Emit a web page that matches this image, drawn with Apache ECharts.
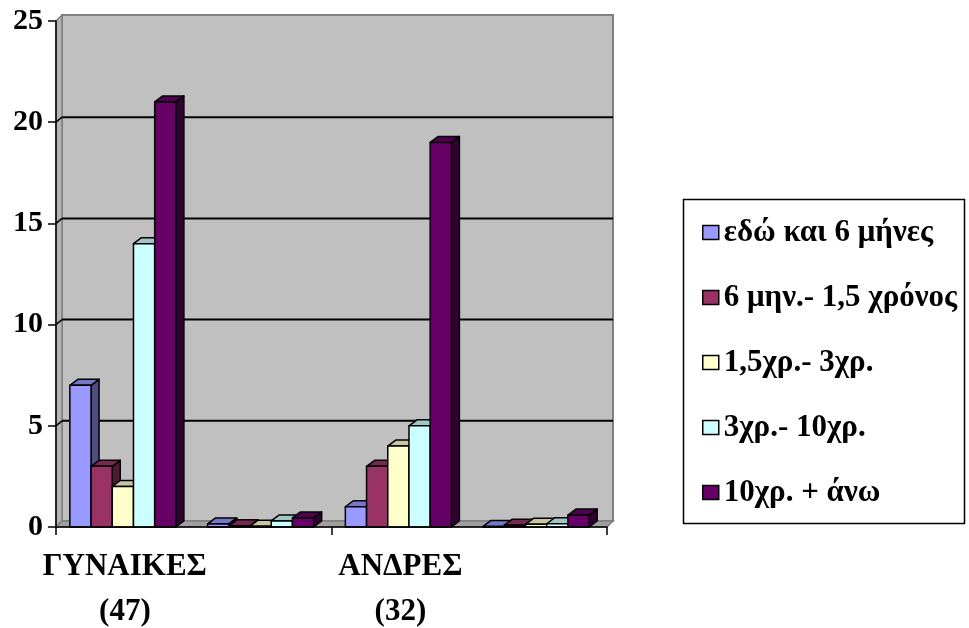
<!DOCTYPE html>
<html>
<head>
<meta charset="utf-8">
<script src="https://cdn.jsdelivr.net/npm/echarts@6/dist/echarts.min.js"></script>
<style>html,body{margin:0;padding:0;background:#fff;}#c{width:969px;height:628px;}</style>
</head>
<body>
<div id="c"></div>
<script>
const categories = ['ΓΥΝΑΙΚΕΣ\n(47)', '', 'ΑΝΔΡΕΣ\n(32)', ''];
const seriesNames = ['εδώ και 6 μήνες', '6 μην.- 1,5 χρόνος', '1,5χρ.- 3χρ.', '3χρ.- 10χρ.', '10χρ. + άνω'];
const s1 = [7, 0.15, 1, 0.03];
const s2 = [3, 0.06, 3, 0.09];
const s3 = [2, 0.04, 4, 0.13];
const s4 = [14, 0.3, 5, 0.16];
const s5 = [21, 0.45, 19, 0.59];
const yTicks = [0, 5, 10, 15, 20, 25];

const seriesValues = [s1, s2, s3, s4, s5];
const colors = ['#9999FF', '#993366', '#FFFFCC', '#CCFFFF', '#660066'];
const FONT = '"Liberation Serif", "Times New Roman", serif';
const DX = 8, DY = -6;     // bar depth
const WX = 6, WY = -6;     // wall depth

function shade(hex, f) {
  const n = parseInt(hex.slice(1), 16);
  const r = Math.round(((n >> 16) & 255) * f), g = Math.round(((n >> 8) & 255) * f), b = Math.round((n & 255) * f);
  return 'rgb(' + r + ',' + g + ',' + b + ')';
}

function barRender(si) {
  return function (params, api) {
    const cat = api.value(0), val = api.value(1);
    const top = api.coord([cat, val]);
    const base = api.coord([cat, 0]);
    const band = api.size([1, 0])[0];
    const w = band * 0.154;
    const x0 = top[0] - 2.5 * w - 2 + si * w;
    const yt = top[1], yb = base[1];
    const col = colors[si];
    const st = { stroke: '#000', lineWidth: 1.5, lineJoin: 'round' };
    return {
      type: 'group',
      children: [
        { type: 'polygon', shape: { points: [[x0 + w, yt], [x0 + w + DX, yt + DY], [x0 + w + DX, yb + DY], [x0 + w, yb]] },
          style: Object.assign({ fill: shade(col, 0.5) }, st) },
        { type: 'polygon', shape: { points: [[x0, yt], [x0 + DX, yt + DY], [x0 + w + DX, yt + DY], [x0 + w, yt]] },
          style: Object.assign({ fill: shade(col, 0.78) }, st) },
        { type: 'rect', shape: { x: x0, y: yt, width: w, height: yb - yt },
          style: Object.assign({ fill: col }, st) }
      ]
    };
  };
}

function wallRender(params, api) {
  const cs = params.coordSys;
  const x = cs.x, y = cs.y, W = cs.width, H = cs.height;
  const children = [];
  children.push({ type: 'rect', shape: { x: x + WX, y: y + WY, width: W, height: H },
    style: { fill: '#C0C0C0', stroke: '#808080', lineWidth: 2 } });
  children.push({ type: 'polygon', shape: { points: [[x, y], [x + WX, y + WY], [x + WX, y + H + WY], [x, y + H]] },
    style: { fill: '#B4B4B4', stroke: '#808080', lineWidth: 1.5 } });
  children.push({ type: 'polygon', shape: { points: [[x, y + H], [x + WX, y + H + WY], [x + W + WX, y + H + WY], [x + W, y + H]] },
    style: { fill: '#A0A0A0', stroke: '#808080', lineWidth: 1.5 } });
  yTicks.forEach(function (t) {
    if (t === 0 || t === 25) return;
    const p = api.coord([0, t]);
    children.push({ type: 'line', shape: { x1: x + WX, y1: p[1] + WY + 1, x2: x + W + WX, y2: p[1] + WY + 1 },
      style: { stroke: '#000', lineWidth: 2 } });
    children.push({ type: 'line', shape: { x1: x, y1: p[1], x2: x + WX, y2: p[1] + WY + 1 },
      style: { stroke: '#000', lineWidth: 1.5 } });
  });
  return { type: 'group', children: children };
}

const series = [{
  type: 'custom', name: '__walls', silent: true, z: 0,
  data: [[0, 0]], renderItem: wallRender
}];
seriesValues.forEach(function (vals, si) {
  series.push({
    type: 'custom', name: seriesNames[si], z: 2 + si,
    itemStyle: { color: colors[si] },
    data: vals.map(function (v, ci) { return [ci, v]; }),
    renderItem: barRender(si)
  });
});

const chart = echarts.init(document.getElementById('c'), null, { renderer: 'canvas' });
chart.setOption({
  animation: false,
  backgroundColor: '#fff',
  grid: { left: 56, right: 362, top: 21, bottom: 101, containLabel: false, outerBoundsMode: 'none' },
  xAxis: {
    type: 'category', data: categories, boundaryGap: true,
    axisLine: { show: true, lineStyle: { color: '#000', width: 1.5 } },
    axisTick: { show: true, length: 8, lineStyle: { color: '#000', width: 1.5 } },
    axisLabel: { fontFamily: FONT, fontWeight: 'bold', fontSize: 31, color: '#000', lineHeight: 45, margin: 17 },
    splitLine: { show: false }, z: 10
  },
  yAxis: {
    type: 'value', min: 0, max: 25, interval: 5,
    axisLine: { show: true, lineStyle: { color: '#000', width: 1.5 } },
    axisTick: { show: true, length: 8, lineStyle: { color: '#000', width: 1.5 } },
    axisLabel: { fontFamily: FONT, fontWeight: 'bold', fontSize: 30, color: '#000', margin: 13 },
    splitLine: { show: false }, z: 10
  },
  legend: {
    data: seriesNames, orient: 'vertical', left: 697, top: 212,
    icon: 'rect', itemWidth: 16, itemHeight: 14, itemGap: 34, itemTextGap: 6,
    itemStyle: { borderColor: '#000', borderWidth: 1.5 },
    textStyle: { fontFamily: FONT, fontWeight: 'bold', fontSize: 31, color: '#000' },
    selectedMode: false
  },
  graphic: [{
    type: 'rect', left: 681, top: 197, shape: { width: 281, height: 324 },
    style: { fill: 'none', stroke: '#000', lineWidth: 1.5 }, silent: true
  }],
  series: series
});
</script>
</body>
</html>
